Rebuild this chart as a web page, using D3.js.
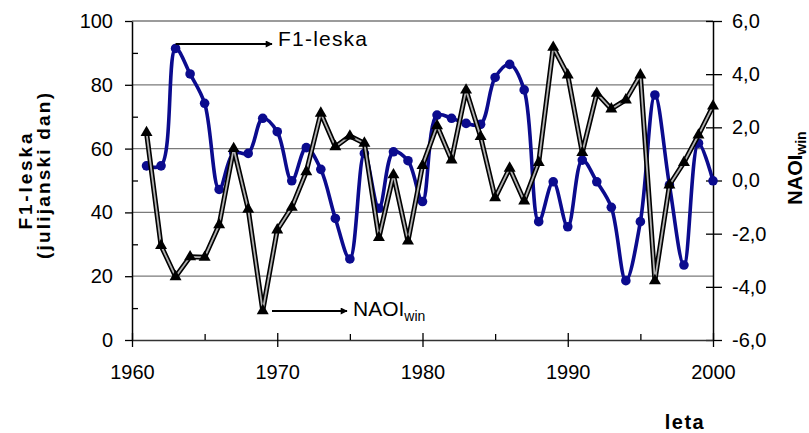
<!DOCTYPE html>
<html>
<head>
<meta charset="utf-8">
<script src="https://cdn.jsdelivr.net/npm/d3@7"></script>
<style>
  html, body { margin: 0; padding: 0; background: #fff; }
  svg { display: block; font-family: "Liberation Sans", Arial, sans-serif; }
</style>
</head>
<body>
<svg id="chart" width="809" height="433"></svg>
<script>
const years = [1961,1962,1963,1964,1965,1966,1967,1968,1969,1970,
               1971,1972,1973,1974,1975,1976,1977,1978,1979,1980,
               1981,1982,1983,1984,1985,1986,1987,1988,1989,1990,
               1991,1992,1993,1994,1995,1996,1997,1998,1999,2000];
const f1Leska = [54.6,54.6,91.4,83.4,74.2,47.2,58.7,58.5,69.5,65.3,
                 49.9,60.3,53.5,38.1,25.4,58.5,41.3,59.0,56.2,43.4,
                 70.5,69.5,67.9,67.6,82.3,86.4,78.4,37.1,49.6,35.5,
                 56.4,49.6,41.6,18.6,37.1,76.8,48.6,23.5,61.7,49.9];
const naoiWin = [1.80,-2.45,-3.62,-2.87,-2.89,-1.67,1.20,-1.08,-4.90,-1.86,
                 -1.01,0.33,2.53,1.27,1.67,1.40,-2.15,0.21,-2.28,0.56,
                 2.06,0.77,3.40,1.65,-0.65,0.46,-0.77,0.68,5.01,3.97,
                 1.05,3.28,2.69,3.03,3.97,-3.77,-0.17,0.68,1.71,2.80];
const xMajorTicks = [1960,1970,1980,1990,2000];
const xMinorTicks = [1965,1975,1985,1995];
const leftTicks = [0,20,40,60,80,100];
const leftMinorTicks = [10,30,50,70,90];
const gridValues = [20,40,60,80,100];
const rightTicks = [-6,-4,-2,0,2,4,6];

const svg = d3.select("#chart");
const L = 132, R = 713, T = 21, B = 340;
const x = d3.scaleLinear().domain([1960,2000]).range([L,R]);
const yL = d3.scaleLinear().domain([0,100]).range([B,T]);
const yR = d3.scaleLinear().domain([-6,6]).range([B,T]);

// grid
svg.append("g").selectAll("line").data(gridValues).join("line")
  .attr("x1", L).attr("x2", R)
  .attr("y1", d => yL(d)).attr("y2", d => yL(d))
  .attr("stroke", "#7a7a7a").attr("stroke-width", 1.3);

// left axis
const gL = svg.append("g").attr("transform", `translate(${L},0)`)
  .call(d3.axisLeft(yL).tickValues(leftTicks).tickSize(7).tickSizeOuter(0).tickPadding(12));
const gLm = svg.append("g").attr("transform", `translate(${L},0)`)
  .call(d3.axisRight(yL).tickValues(leftMinorTicks).tickSize(6).tickSizeOuter(0).tickFormat(""));
gLm.select(".domain").remove();

// right axis
const fmtR = d => d3.format(".1f")(d).replace(".", ",").replace("−", "-");
const gR = svg.append("g").attr("transform", `translate(${R},0)`)
  .call(d3.axisRight(yR).tickValues(rightTicks).tickSize(9).tickSizeOuter(0).tickPadding(10).tickFormat(fmtR));
gR.selectAll(".tick line").attr("x1", -7);

// bottom axis
const gB = svg.append("g").attr("transform", `translate(0,${B})`)
  .call(d3.axisBottom(x).tickValues(xMajorTicks).tickSize(7).tickSizeOuter(0).tickPadding(18).tickFormat(d3.format("d")));
gB.selectAll(".tick line").attr("y1", -7);
const gBm = svg.append("g").attr("transform", `translate(0,${B})`)
  .call(d3.axisTop(x).tickValues(xMinorTicks).tickSize(6).tickSizeOuter(0).tickFormat(""));
gBm.select(".domain").remove();

[gL, gLm, gR, gB, gBm].forEach(g => {
  g.selectAll("text").attr("font-size", 20).attr("fill", "#000")
    .attr("font-family", "'Liberation Sans', Arial, sans-serif");
  g.selectAll("line").attr("stroke", "#000").attr("stroke-width", 1.3);
  g.selectAll(".domain").attr("stroke", "#000").attr("stroke-width", 1.5);
});
gB.select(".domain").attr("stroke", "#333");

// F1-leska smoothed line
const lineF = d3.line().x((d,i) => x(years[i])).y(d => yL(d)).curve(d3.curveCatmullRom.alpha(0.5));
svg.append("path").datum(f1Leska).attr("d", lineF)
  .attr("fill", "none").attr("stroke", "#0b0b8e").attr("stroke-width", 3.6);
svg.append("g").selectAll("circle").data(f1Leska).join("circle")
  .attr("cx", (d,i) => x(years[i])).attr("cy", d => yL(d)).attr("r", 4.8)
  .attr("fill", "#0b0b8e");

// NAOI line
const lineN = d3.line().x((d,i) => x(years[i])).y(d => yR(d));
svg.append("path").datum(naoiWin).attr("d", lineN)
  .attr("fill", "none").attr("stroke", "#000").attr("stroke-width", 5).attr("stroke-linejoin", "round");
svg.append("path").datum(naoiWin).attr("d", lineN)
  .attr("fill", "none").attr("stroke", "#b0b0b0").attr("stroke-width", 1.8).attr("stroke-linejoin", "round");
const tri = d3.symbol().type(d3.symbolTriangle).size(62);
svg.append("g").selectAll("path").data(naoiWin).join("path")
  .attr("d", tri)
  .attr("transform", (d,i) => `translate(${x(years[i])},${yR(d)})`)
  .attr("fill", "#000");

// annotations with arrows
const defs = svg.append("defs");
defs.append("marker").attr("id", "arr").attr("viewBox", "0 0 10 10")
  .attr("refX", 9).attr("refY", 5).attr("markerWidth", 9).attr("markerHeight", 7)
  .attr("markerUnits", "userSpaceOnUse").attr("orient", "auto")
  .append("path").attr("d", "M0,0 L10,5 L0,10 z").attr("fill", "#000");

svg.append("line").attr("x1", x(1963)).attr("x2", 272).attr("y1", 44).attr("y2", 44)
  .attr("stroke", "#000").attr("stroke-width", 2).attr("marker-end", "url(#arr)");
svg.append("text").attr("x", 278).attr("y", 46).attr("font-size", 21)
  .attr("textLength", 89).text("F1-leska");

svg.append("line").attr("x1", 272).attr("x2", 347).attr("y1", 311).attr("y2", 311)
  .attr("stroke", "#000").attr("stroke-width", 2).attr("marker-end", "url(#arr)");
const tN = svg.append("text").attr("x", 353).attr("y", 316).attr("font-size", 21);
tN.append("tspan").text("NAOI");
tN.append("tspan").attr("font-size", 14).attr("dy", 5).text("win");

// axis titles
svg.append("text").attr("transform", "translate(32,181.5) rotate(-90)")
  .attr("text-anchor", "middle").attr("font-size", 19).attr("font-weight", "bold")
  .attr("textLength", 96).text("F1-leska");
svg.append("text").attr("transform", "translate(50,176) rotate(-90)")
  .attr("text-anchor", "middle").attr("font-size", 19).attr("font-weight", "bold")
  .attr("textLength", 166).text("(julijanski dan)");
const tR = svg.append("text").attr("transform", "translate(802,168) rotate(-90)")
  .attr("text-anchor", "middle").attr("font-size", 20).attr("font-weight", "bold");
tR.append("tspan").text("NAOI");
tR.append("tspan").attr("font-size", 14).attr("dy", 4).text("win");
svg.append("text").attr("x", 685).attr("y", 429).attr("text-anchor", "middle")
  .attr("font-size", 20).attr("font-weight", "bold").attr("letter-spacing", 1.5).text("leta");
</script>
</body>
</html>
